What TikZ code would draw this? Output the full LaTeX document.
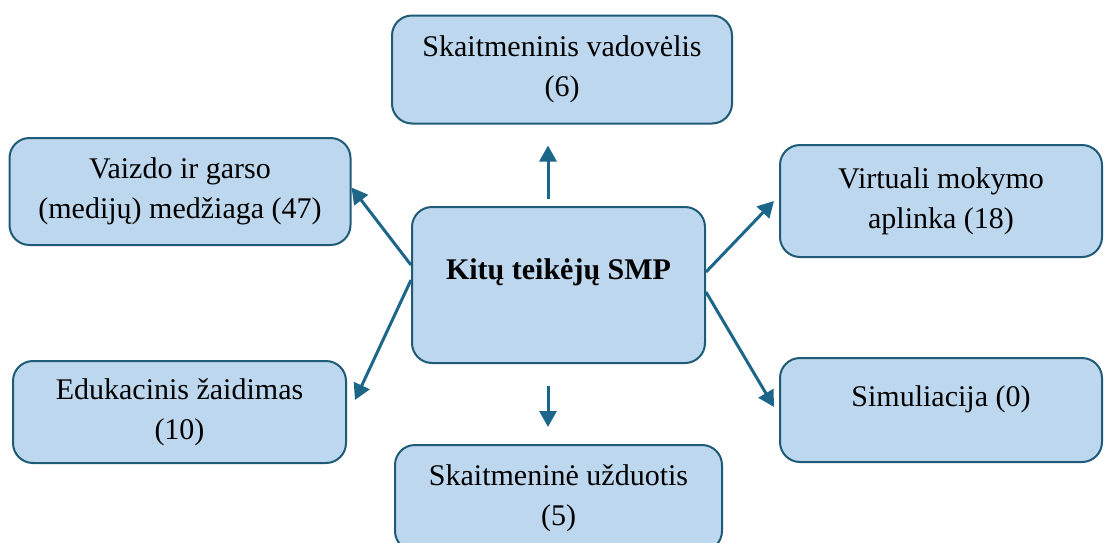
\documentclass[tikz,border=0pt]{standalone}
\usepackage{fontspec}
\setmainfont{Liberation Serif}
\usetikzlibrary{arrows.meta}
\definecolor{boxfill}{RGB}{189,215,238}
\definecolor{boxline}{RGB}{31,90,118}
\definecolor{arrline}{RGB}{28,102,137}

\begin{document}
\begin{tikzpicture}[x=0.5pt, y=-0.5pt,
        smp/.style={draw=boxline, line width=1pt, fill=boxfill, rounded corners=10pt,
            align=center, inner sep=0pt, font=\fontsize{15}{20}\selectfont},
        arr/.style={draw=arrline, line width=1.5pt, -{Triangle[length=8pt, width=8.5pt]}}]
            \useasboundingbox (0,0) rectangle (1104,542);

            \node[smp, minimum width=146.5pt, minimum height=78pt, text height=10.5pt, text depth=16pt, font=\fontsize{15}{20}\selectfont\bfseries]
                (ctr) at (558.5, 285) {Kitų teikėjų SMP};

            \node[smp, minimum width=170pt, minimum height=54pt] (vadovelis) at (562, 69.5) {Skaitmeninis vadovėlis\\(6)};
            \node[smp, minimum width=170.5pt, minimum height=53.5pt] (medija) at (180, 191.5) {Vaizdo ir garso\\(medijų) medžiaga (47)};
            \node[smp, minimum width=161pt, minimum height=56pt] (aplinka) at (941, 201) {Virtuali mokymo\\aplinka (18)};
            \node[smp, minimum width=166.5pt, minimum height=51pt] (zaidimas) at (179.5, 412) {Edukacinis žaidimas\\(10)};
            \node[smp, minimum width=161pt, minimum height=52pt, text height=10.5pt, text depth=14pt] (simuliacija) at (941, 410) {Simuliacija (0)};
            \node[smp, minimum width=163.5pt, minimum height=53pt] (uzduotis) at (558.5, 498) {Skaitmeninė užduotis\\(5)};

            \draw[arr, shorten <=3.5pt, shorten >=10.5pt] ([xshift=-5.25pt]ctr.north) -- ([xshift=-7pt]vadovelis.south);
            \draw[arr, shorten <=11pt, shorten >=8.5pt] ([xshift=-5.25pt]ctr.south) -- ([xshift=-5.25pt]uzduotis.north);
            \draw[arr] ([yshift=10pt]ctr.west) -- ([yshift=2pt]medija.east);
            \draw[arr] ([yshift=2.5pt]ctr.west) -- ([xshift=4pt, yshift=6pt]zaidimas.east);
            \draw[arr] ([yshift=6.5pt]ctr.east) -- ([xshift=-2.5pt]aplinka.west);
            \draw[arr] ([yshift=-3.5pt]ctr.east) -- ([xshift=-2.5pt, yshift=1.5pt]simuliacija.west);
        \end{tikzpicture}
\end{document}
